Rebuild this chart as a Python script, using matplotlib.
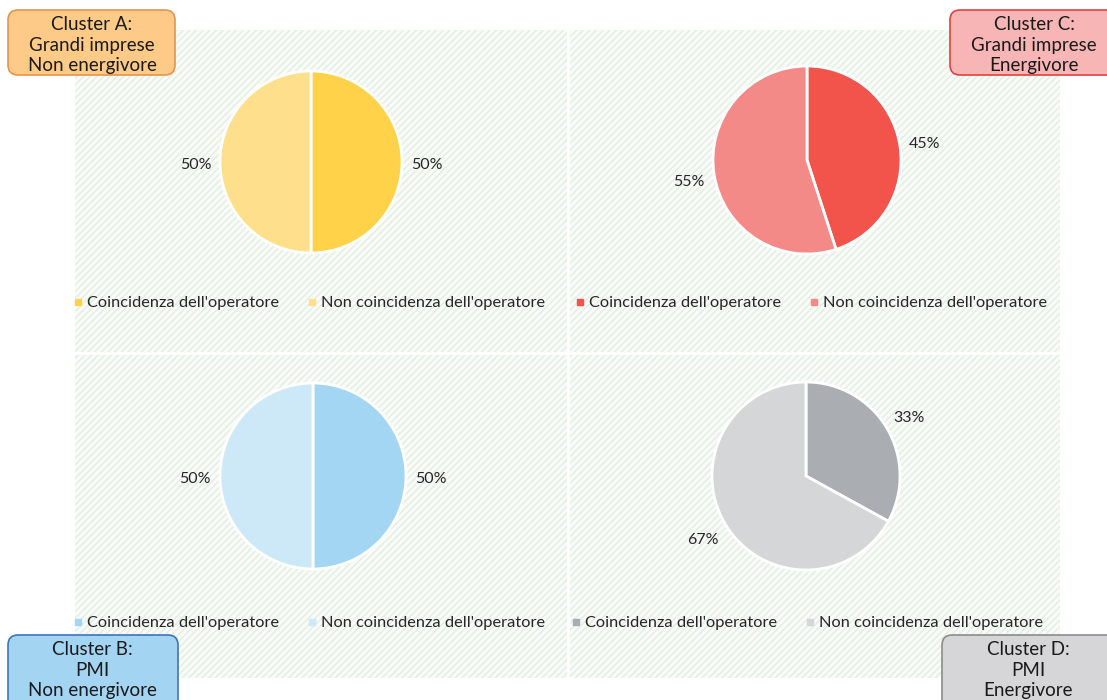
import matplotlib
matplotlib.use("Agg")
import matplotlib.pyplot as plt
from matplotlib.patches import Rectangle, FancyBboxPatch
from matplotlib.lines import Line2D
from matplotlib.legend import Legend

plt.rcParams['font.family'] = ['Lato', 'DejaVu Sans']
plt.rcParams['hatch.linewidth'] = 1.0

categories = ["Coincidenza dell'operatore", "Non coincidenza dell'operatore"]
values_A = [50, 50]
values_B = [50, 50]
values_C = [45, 55]
values_D = [33, 67]
colors_A = ['#FFD24A', '#FDDF8C']
colors_B = ['#A2D6F3', '#CDE8F6']
colors_C = ['#F2544B', '#F48A88']
colors_D = ['#AAADB2', '#D5D6D8']
titles = {
    'A': "Cluster A:\nGrandi imprese\nNon energivore",
    'B': "Cluster B:\nPMI\nNon energivore",
    'C': "Cluster C:\nGrandi imprese\nEnergivore",
    'D': "Cluster D:\nPMI\nEnergivore",
}

W, H = 1107, 700
fig = plt.figure(figsize=(W / 100, H / 100), dpi=100)
bg = fig.add_axes([0, 0, 1, 1])
bg.set_xlim(0, W)
bg.set_ylim(H, 0)
bg.axis('off')

# hatched background
bg.add_patch(Rectangle((75, 30), 985, 648, facecolor='#F8FBF7', edgecolor='#E3EEE1',
                       hatch='/////', linewidth=0, zorder=0))
# white separators
bg.plot([568, 568], [30, 678], color='white', lw=2, zorder=1)
bg.plot([75, 1060], [353, 353], color='white', lw=2, zorder=1)

panels = [
    ('A', values_A, colors_A, (311, 162), 91, (74, 303)),
    ('C', values_C, colors_C, (807, 160), 94, (576, 303)),
    ('B', values_B, colors_B, (313, 476), 93, (74, 623)),
    ('D', values_D, colors_D, (806, 476), 94, (572, 623)),
]

for key, vals, cols, (cx, cy), r, (lx, ly) in panels:
    half = 1.4 * r
    ax = fig.add_axes([(cx - half) / W, (H - cy - half) / H, 2 * half / W, 2 * half / H])
    wedges, texts, autotexts = ax.pie(vals, colors=cols, startangle=90, counterclock=False,
                                      wedgeprops=dict(edgecolor='white', linewidth=2),
                                      autopct='%1.0f%%', pctdistance=1.27,
                                      textprops=dict(fontsize=11.5, color='#262626'))
    for t in autotexts:
        x, y = t.get_position()
        t.set_position((x, y - 3.0 / r))
    ax.set_xlim(-1.4, 1.4)
    ax.set_ylim(-1.4, 1.4)
    ax.set_aspect('equal')
    ax.axis('off')
    handles = [Line2D([], [], marker='s', linestyle='none', markersize=4,
                      markerfacecolor=c, markeredgecolor=c) for c in cols]
    leg = Legend(bg, handles, categories, loc='center left', bbox_to_anchor=(lx, ly),
                 bbox_transform=bg.transData, ncol=2, frameon=False, fontsize=11.8,
                 handlelength=0.5, handletextpad=0.3, columnspacing=1.75,
                 borderpad=0, borderaxespad=0, labelcolor='#262626')
    bg.add_artist(leg)

boxes = [
    ('A', (8, 10, 167, 65), '#FDCA87', '#E8934A', 92, 45),
    ('C', (950, 10, 170, 65), '#F8B5B5', '#E2423F', 1034, 45),
    ('B', (8, 635, 170, 75), '#A3D5F2', '#3D74BC', 92, 670),
    ('D', (942, 635, 180, 75), '#D6D6D8', '#8C8C8C', 1028, 670),
]
for key, (x, y, w, h), fc, ec, tx, ty in boxes:
    bg.add_patch(FancyBboxPatch((x, y), w, h, boxstyle='round,pad=0,rounding_size=10',
                                facecolor=fc, edgecolor=ec, linewidth=1.2, zorder=3,
                                clip_on=False))
    bg.text(tx, ty, titles[key], ha='center', va='center',
            fontsize=13.5, color='#1a1a1a', linespacing=1.25, zorder=4)

fig.savefig('out.png', dpi=100)
